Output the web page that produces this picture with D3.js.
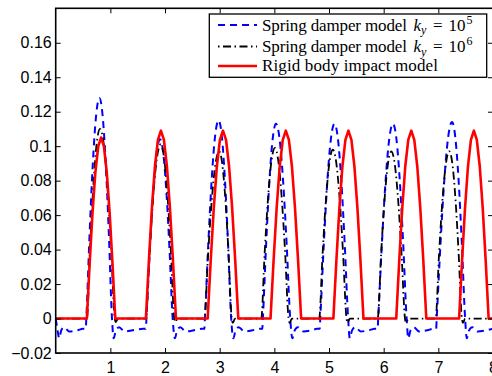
<!DOCTYPE html>
<html><head><meta charset="utf-8">
<script src="https://cdn.jsdelivr.net/npm/d3@7"></script>
<style>
html,body{margin:0;padding:0;background:#fff;}
svg{display:block;}
</style></head>
<body>
<svg id="chart" width="492" height="376"></svg>
<script>
// ---- Data ----
const xTicks = [1, 2, 3, 4, 5, 6, 7, 8];
const xTickLabels = ["1", "2", "3", "4", "5", "6", "7", "8"];
const yTicks = [-0.02, 0, 0.02, 0.04, 0.06, 0.08, 0.1, 0.12, 0.14, 0.16];
const yTickLabels = ["\u22120.02", "0", "0.02", "0.04", "0.06", "0.08", "0.1", "0.12", "0.14", "0.16"];
const xDomain = [0, 8];
const yDomain = [-0.02, 0.18];

const legendLabels = ["Spring damper model", "Spring damper model", "Rigid body impact model"];
const legendExponents = ["5", "6"];

// Spring damper model k_y = 10^5 (blue dashed)
const springK5 = [
  [0, 0], [0.03, -0.006], [0.065, -0.0115], [0.1, -0.007], [0.15, -0.005], [0.25, -0.0075], [0.4, -0.0068], [0.5, -0.006], [0.55, -0.006],
  [0.56, 0], [0.62, 0.049], [0.68, 0.0905], [0.74, 0.118], [0.80, 0.128], [0.8575, 0.118], [0.915, 0.0905], [0.9725, 0.049], [1.03, 0], [1.06, -0.0115],
  [1.10, -0.007], [1.16, -0.005], [1.26, -0.0075], [1.41, -0.0068], [1.60, -0.006], [1.65, -0.006],
  [1.66, 0], [1.7225, 0.0398], [1.785, 0.0735], [1.8475, 0.0961], [1.91, 0.104], [1.9675, 0.0961], [2.025, 0.0735], [2.0825, 0.0398], [2.14, 0], [2.18, -0.0115],
  [2.22, -0.007], [2.28, -0.005], [2.38, -0.0075], [2.53, -0.0068], [2.67, -0.006], [2.72, -0.006],
  [2.73, 0], [2.7925, 0.044], [2.855, 0.0813], [2.9175, 0.1063], [2.98, 0.115], [3.0375, 0.1063], [3.095, 0.0813], [3.1525, 0.044], [3.21, 0], [3.25, -0.0115],
  [3.29, -0.007], [3.35, -0.005], [3.45, -0.0075], [3.60, -0.0068], [3.73, -0.006], [3.78, -0.006],
  [3.79, 0], [3.85, 0.0433], [3.91, 0.0799], [3.97, 0.1044], [4.03, 0.113], [4.095, 0.1044], [4.16, 0.0799], [4.225, 0.0433], [4.29, 0], [4.33, -0.0115],
  [4.37, -0.007], [4.43, -0.005], [4.53, -0.0075], [4.68, -0.0068], [4.78, -0.006], [4.83, -0.006],
  [4.84, 0], [4.905, 0.0433], [4.97, 0.0799], [5.035, 0.1044], [5.10, 0.113], [5.1625, 0.1044], [5.225, 0.0799], [5.2875, 0.0433], [5.35, 0], [5.38, -0.0115],
  [5.42, -0.007], [5.48, -0.005], [5.58, -0.0075], [5.73, -0.0068], [5.84, -0.006], [5.89, -0.006],
  [5.90, 0], [5.9675, 0.0433], [6.035, 0.0799], [6.1025, 0.1044], [6.17, 0.113], [6.2325, 0.1044], [6.295, 0.0799], [6.3575, 0.0433], [6.42, 0], [6.45, -0.0115],
  [6.49, -0.007], [6.55, -0.005], [6.65, -0.0075], [6.80, -0.0068], [6.91, -0.006], [6.96, -0.006],
  [6.97, 0], [7.04, 0.0436], [7.11, 0.0806], [7.18, 0.1053], [7.25, 0.114], [7.31, 0.1053], [7.37, 0.0806], [7.43, 0.0436], [7.49, 0], [7.52, -0.0115],
  [7.56, -0.007], [7.62, -0.005], [7.72, -0.0075], [7.87, -0.0068], [8.0, -0.006]
];

// Spring damper model k_y = 10^6 (black dash-dot)
const springK6 = [
  [0, 0], [0.57, 0], [0.63, 0.0421], [0.69, 0.0778], [0.75, 0.1016], [0.81, 0.110], [0.8775, 0.1016], [0.945, 0.0778], [1.0125, 0.0421], [1.08, 0], [1.10, -0.002], [1.14, 0],
  [1.65, 0], [1.7175, 0.0387], [1.785, 0.0714], [1.8525, 0.0933], [1.92, 0.101], [1.9825, 0.0933], [2.045, 0.0714], [2.1075, 0.0387], [2.17, 0], [2.19, -0.002], [2.23, 0],
  [2.72, 0], [2.7875, 0.0371], [2.855, 0.0686], [2.9225, 0.0896], [2.99, 0.097], [3.0475, 0.0896], [3.105, 0.0686], [3.1625, 0.0371], [3.22, 0], [3.24, -0.0025], [3.28, 0],
  [3.76, 0], [3.8225, 0.0379], [3.885, 0.07], [3.9475, 0.0915], [4.01, 0.099], [4.0725, 0.0915], [4.135, 0.07], [4.1975, 0.0379], [4.26, 0], [4.28, -0.0025], [4.32, 0],
  [4.82, 0], [4.8825, 0.0375], [4.945, 0.0693], [5.0075, 0.0905], [5.07, 0.098], [5.1325, 0.0905], [5.195, 0.0693], [5.2575, 0.0375], [5.32, 0], [5.34, -0.0025], [5.38, 0],
  [5.89, 0], [5.9525, 0.0371], [6.015, 0.0686], [6.0775, 0.0896], [6.14, 0.097], [6.2025, 0.0896], [6.265, 0.0686], [6.3275, 0.0371], [6.39, 0], [6.41, -0.0025], [6.45, 0],
  [6.95, 0], [7.0125, 0.0371], [7.075, 0.0686], [7.1375, 0.0896], [7.20, 0.097], [7.2575, 0.0896], [7.315, 0.0686], [7.3725, 0.0371], [7.43, 0], [7.45, -0.0025], [7.49, 0],
  [8, 0]
];

// Rigid body impact model (red solid)
const rigidBody = [
  [0, 0],
  [0.57, 0], [0.622, 0.0324], [0.674, 0.0617], [0.726, 0.0849], [0.778, 0.0999], [0.83, 0.105], [0.882, 0.0999], [0.934, 0.0849], [0.986, 0.0617], [1.038, 0.0324], [1.09, 0],
  [1.65, 0], [1.705, 0.0337], [1.76, 0.0641], [1.815, 0.0882], [1.87, 0.1037], [1.925, 0.109], [1.98, 0.1037], [2.035, 0.0882], [2.09, 0.0641], [2.145, 0.0337], [2.20, 0],
  [2.78, 0], [2.836, 0.0337], [2.892, 0.0641], [2.948, 0.0882], [3.004, 0.1037], [3.06, 0.109], [3.116, 0.1037], [3.172, 0.0882], [3.228, 0.0641], [3.284, 0.0337], [3.34, 0],
  [3.93, 0], [3.986, 0.0337], [4.042, 0.0641], [4.098, 0.0882], [4.154, 0.1037], [4.21, 0.109], [4.266, 0.1037], [4.322, 0.0882], [4.378, 0.0641], [4.434, 0.0337], [4.49, 0],
  [5.08, 0], [5.135, 0.0337], [5.19, 0.0641], [5.245, 0.0882], [5.30, 0.1037], [5.355, 0.109], [5.41, 0.1037], [5.465, 0.0882], [5.52, 0.0641], [5.575, 0.0337], [5.63, 0],
  [6.23, 0], [6.285, 0.0337], [6.34, 0.0641], [6.395, 0.0882], [6.45, 0.1037], [6.505, 0.109], [6.56, 0.1037], [6.615, 0.0882], [6.67, 0.0641], [6.725, 0.0337], [6.78, 0],
  [7.38, 0], [7.434, 0.0337], [7.488, 0.0641], [7.542, 0.0882], [7.596, 0.1037], [7.65, 0.109], [7.704, 0.1037], [7.758, 0.0882], [7.812, 0.0641], [7.866, 0.0337], [7.92, 0],
  [8, 0]
];

// ---- Layout ----
const W = 492, H = 376;
const plot = { left: 55.7, top: 8.3, right: 493, bottom: 353 };

const svg = d3.select("#chart");
const x = d3.scaleLinear().domain(xDomain).range([plot.left, plot.right]);
const y = d3.scaleLinear().domain(yDomain).range([plot.bottom, plot.top]);

svg.append("defs").append("clipPath").attr("id", "clip")
  .append("rect").attr("x", plot.left).attr("y", plot.top)
  .attr("width", plot.right - plot.left).attr("height", plot.bottom - plot.top);

const lines = svg.append("g").attr("clip-path", "url(#clip)");

const lineSmooth = d3.line().x(d => x(d[0])).y(d => y(d[1])).curve(d3.curveMonotoneX);
const lineLinear = d3.line().x(d => x(d[0])).y(d => y(d[1])).curve(d3.curveLinear);

lines.append("path").datum(springK5).attr("d", lineSmooth)
  .attr("fill", "none").attr("stroke", "#0000ff").attr("stroke-width", 2)
  .attr("stroke-dasharray", "7,5");
lines.append("path").datum(springK6).attr("d", lineSmooth)
  .attr("fill", "none").attr("stroke", "#000").attr("stroke-width", 1.8)
  .attr("stroke-dasharray", "8,3.5,1.5,3.5");
lines.append("path").datum(rigidBody).attr("d", lineLinear)
  .attr("fill", "none").attr("stroke", "#ff0000").attr("stroke-width", 2.6)
  .attr("stroke-linejoin", "round");

// ---- Axes ----
const tickFont = "'Liberation Sans', Arial, sans-serif";
const axL = svg.append("g").attr("transform", `translate(${plot.left},0)`)
  .call(d3.axisLeft(y).tickValues(yTicks).tickFormat((d, i) => yTickLabels[i])
    .tickSizeInner(-5).tickSizeOuter(0).tickPadding(4));
const axB = svg.append("g").attr("transform", `translate(0,${plot.bottom})`)
  .call(d3.axisBottom(x).tickValues(xTicks).tickFormat((d, i) => xTickLabels[i])
    .tickSizeInner(-5).tickSizeOuter(0).tickPadding(8.6));
const axT = svg.append("g").attr("transform", `translate(0,${plot.top})`)
  .call(d3.axisTop(x).tickValues(xTicks).tickFormat("")
    .tickSizeInner(-5).tickSizeOuter(0));
const axR = svg.append("g").attr("transform", `translate(${plot.right},0)`)
  .call(d3.axisRight(y).tickValues(yTicks).tickFormat("")
    .tickSizeInner(-5).tickSizeOuter(0));

[axL, axB, axT, axR].forEach(g => {
  g.select(".domain").remove();
  g.selectAll(".tick line").attr("stroke", "#000").attr("stroke-width", 1);
  g.selectAll(".tick text").attr("fill", "#000")
    .style("font-family", tickFont).style("font-size", "16px");
});

svg.append("rect")
  .attr("x", plot.left).attr("y", plot.top)
  .attr("width", plot.right - plot.left).attr("height", plot.bottom - plot.top)
  .attr("fill", "none").attr("stroke", "#000").attr("stroke-width", 1.6);

// ---- Legend ----
const leg = svg.append("g");
leg.append("rect").attr("x", 209.3).attr("y", 14).attr("width", 277.4).attr("height", 63.3)
  .attr("fill", "#fff").attr("stroke", "#000").attr("stroke-width", 1.3);

const legRows = [
  { y: 25, base: 30.8, color: "#0000ff", w: 2, dash: "7,5", off: 0, exp: legendExponents[0], len: 145 },
  { y: 46.5, base: 52, color: "#000", w: 1.8, dash: "8,3.5,1.5,3.5", off: 11.5, exp: legendExponents[1], len: 145 },
  { y: 66, base: 71.3, color: "#ff0000", w: 2.6, dash: null, off: 0, exp: null, len: 176 }
];
const serif = "'Liberation Serif', 'Times New Roman', serif";
legRows.forEach((r, i) => {
  const ln = leg.append("line").attr("x1", 218).attr("x2", 257).attr("y1", r.y).attr("y2", r.y)
    .attr("stroke", r.color).attr("stroke-width", r.w);
  if (r.dash) ln.attr("stroke-dasharray", r.dash).attr("stroke-dashoffset", r.off);
  leg.append("text").attr("x", 262).attr("y", r.base)
    .attr("textLength", r.len).attr("lengthAdjust", "spacing")
    .style("font-family", serif).style("font-size", "17px").attr("fill", "#000")
    .text(legendLabels[i]);
  if (r.exp) {
    const m = leg.append("text").attr("y", r.base)
      .style("font-family", serif).style("font-size", "17px").attr("fill", "#000");
    m.append("tspan").attr("x", 413.5).style("font-style", "italic").text("k");
    m.append("tspan").attr("x", 421).attr("dy", 3.5).style("font-style", "italic").style("font-size", "12px").text("y");
    m.append("tspan").attr("x", 433).attr("dy", -3.5).text("=");
    m.append("tspan").attr("x", 448.5).text("10");
    m.append("tspan").attr("x", 466.5).attr("dy", -7).style("font-size", "12px").text(r.exp);
  }
});
</script>
</body></html>
